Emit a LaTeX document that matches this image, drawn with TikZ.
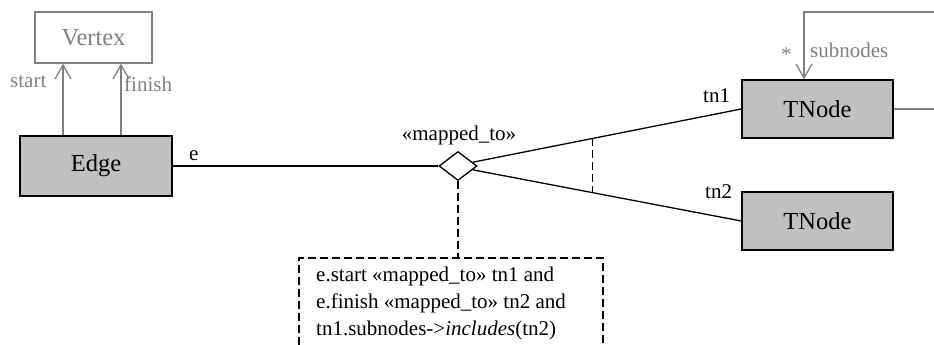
\documentclass[tikz,border=0pt]{standalone}
\usepackage{fontspec}
\setmainfont{LiberationSerif}[Extension=.ttf, UprightFont=*-Regular, ItalicFont=*-Italic, BoldFont=*-Bold]
\usetikzlibrary{shapes.geometric,arrows.meta,calc}
\definecolor{umlgray}{HTML}{808080}
\definecolor{boxfill}{HTML}{C0C0C0}
\begin{document}
\begin{tikzpicture}[x=1pt,y=-1pt,
  cls/.style={draw=black, line width=1.6pt, fill=boxfill, inner sep=0pt,
    minimum width=151pt, minimum height=58pt, font=\fontsize{24.5}{28}\selectfont},
  ghostcls/.style={draw=umlgray, line width=1.3pt, fill=white, text=umlgray, inner sep=0pt,
    minimum width=117pt, minimum height=51pt, font=\fontsize{24.5}{28}\selectfont},
  lbl/.style={font=\fontsize{21}{25}\selectfont, inner sep=0pt},
  glbl/.style={lbl, text=umlgray},
  assoc/.style={draw=black, line width=1.3pt},
  gassoc/.style={draw=umlgray, line width=1.3pt},
  nav/.style={gassoc, -{Straight Barb[length=14pt,width=16pt,line width=1.3pt]}},
  dashline/.style={draw=black, line width=1.3pt, dash pattern=on 8pt off 4pt},
  notebox/.style={draw=black, line width=1.8pt, dash pattern=on 8pt off 4pt},
  rel/.style={diamond, draw=black, line width=1.3pt, fill=white, inner sep=0pt,
    minimum width=38pt, minimum height=29pt}
]
\useasboundingbox (0,0) rectangle (934,345);

% classes
\node[ghostcls] (vertex) at (93.5,37.5) {Vertex};
\node[cls, minimum width=152pt, minimum height=60pt] (edge) at (96,166) {Edge};
\node[cls] (tn1) at (817.5,109) {TNode};
\node[cls] (tn2) at (817.5,221) {TNode};
\node[rel] (d) at (458,166) {};

% navigations to Vertex
\draw[nav] ([xshift=-33pt]edge.north) -- ([xshift=-30.5pt]vertex.south);
\draw[nav] ([xshift=25pt]edge.north) -- ([xshift=27.5pt]vertex.south);
\node[glbl, anchor=base west] (lstart) at (10,87) {start};
\node[glbl, anchor=base west] (lfinish) at (124,92) {finish};

% association Edge -- relation
\draw[assoc] (edge.east) -- (d.west);
\node[lbl, anchor=base west] (le) at (189,160) {e};
\node[lbl, anchor=base] (lmap) at (459,140) {«mapped\_to»};

% relation -- TNodes
\coordinate (p1) at ($(d.north east)!0.5!(d.east)$);
\coordinate (p2) at ($(d.south east)!0.5!(d.east)$);
\draw[assoc] (p1) -- (tn1.west);
\draw[assoc] (p2) -- (tn2.west);
\node[lbl, anchor=base west] (ltn1) at (703,102) {tn1};
\node[lbl, anchor=base west] (ltn2) at (705,198) {tn2};

% dashed line between the two association ends
\coordinate (q1) at ($(p1)!0.4466!(tn1.west)$);
\coordinate (q2) at ($(p2)!0.4466!(tn2.west)$);
\draw[dashline] (q1) -- (q2);

% self association of TNode
\coordinate (loopTop) at (934,12);
\coordinate (loopRight) at (934,109);
\draw[nav] (loopTop) -| ([xshift=-13.5pt]tn1.north);
\draw[gassoc] (tn1.east) -- (loopRight);
\node[glbl, anchor=base west] (lstar) at (781,62) {*};
\node[glbl, anchor=base west] (lsub) at (810,58) {subnodes};

% note
\coordinate (nt) at (458,258);
\draw[dashline] (d.south) -- (nt);
\draw[notebox] (299,345) -- (299,258) -- (603,258) -- (603,345);
\node[lbl, anchor=base west, align=left, font=\fontsize{21}{27}\selectfont] (notetxt) at (316,335)
  {e.start «mapped\_to» tn1 and\\e.finish «mapped\_to» tn2 and\\tn1.subnodes->\textit{includes}(tn2)};
\end{tikzpicture}
\end{document}
